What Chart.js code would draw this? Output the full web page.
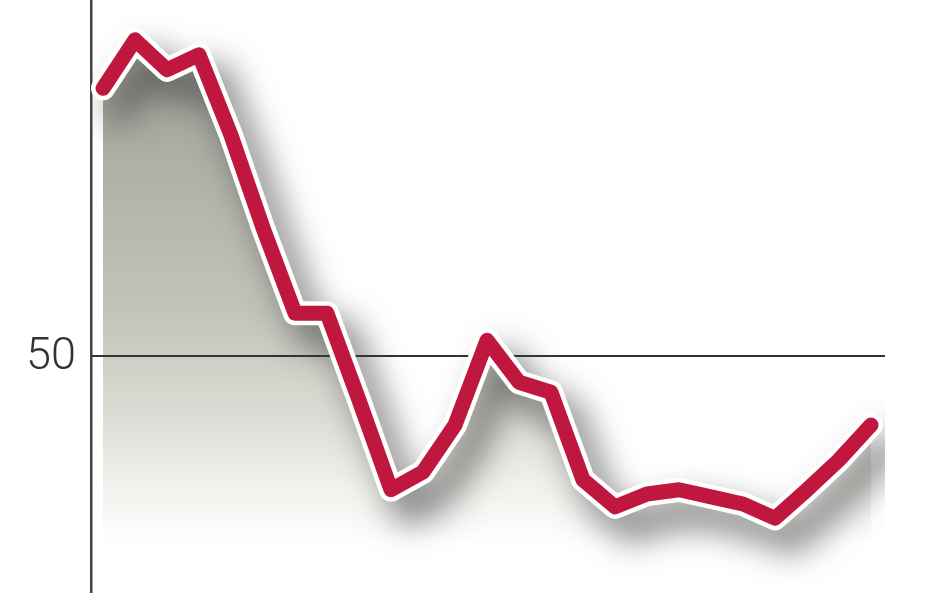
<!DOCTYPE html>
<html>
<head>
<meta charset="utf-8">
<script src="https://cdn.jsdelivr.net/npm/chart.js@4/dist/chart.umd.min.js"></script>
<style>
html,body{margin:0;padding:0;background:#fff;}
#wrap{width:948px;height:593px;position:relative;}
</style>
</head>
<body>
<div id="wrap"><canvas id="c" width="948" height="593"></canvas></div>
<script>
const categories = ['1','2','3','4','5','6','7','8','9','10','11','12','13','14','15','16','17','18','19','20','21','22','23','24','25'];
const values = [87.6,94.4,90.2,92.3,81.0,68.0,56.0,56.0,43.8,31.2,33.7,40.3,52.2,46.3,44.9,32.6,28.8,30.6,31.2,30.2,29.2,27.2,31.2,35.4,40.3];
const yTicks = [50];
const yMin = 16.7, yMax = 100;

const pts = values.map((v,i)=>({x:i,y:v}));

const shadowPlugin = {
  id:'shadow',
  beforeDatasetDraw(chart,args){
    if(args.index===1){
      const ctx=chart.ctx; ctx.save();
      ctx.shadowColor='rgba(60,60,60,0.75)';
      ctx.shadowBlur=34; ctx.shadowOffsetX=17; ctx.shadowOffsetY=21;
    }
  },
  afterDatasetDraw(chart,args){
    if(args.index===1){ chart.ctx.restore(); }
    if(args.index===0){
      const ctx=chart.ctx, s=chart.scales.y, ca=chart.chartArea;
      ctx.save();
      ctx.strokeStyle='#333'; ctx.lineWidth=2;
      yTicks.forEach(v=>{
        const y=Math.round(s.getPixelForValue(v));
        ctx.beginPath(); ctx.moveTo(ca.left,y); ctx.lineTo(ca.right,y); ctx.stroke();
      });
      ctx.restore();
    }
  }
};

const labelPlugin = {
  id:'ylabels',
  afterDraw(chart){
    const ctx=chart.ctx, s=chart.scales.y;
    ctx.save();
    ctx.fillStyle='#333';
    ctx.font='300 45px Roboto';
    ctx.textAlign='right';
    ctx.textBaseline='middle';
    yTicks.forEach(v=>{ ctx.fillText(String(v), s.right-15, s.getPixelForValue(v)+2); });
    ctx.restore();
  }
};

new Chart(document.getElementById('c'),{
  type:'line',
  data:{
    labels:categories,
    datasets:[
      {data:pts,order:3,borderWidth:0,pointRadius:0,tension:0,fill:'start',
       backgroundColor:(c)=>{
         const ca=c.chart.chartArea; if(!ca) return '#bbb';
         const g=c.chart.ctx.createLinearGradient(0,80,0,545);
         g.addColorStop(0,'#a2a39a');
         g.addColorStop(0.25,'#b3b4aa');
         g.addColorStop(0.5,'#c2c3b9');
         g.addColorStop(0.7,'#dadad3');
         g.addColorStop(0.87,'#f0f0ec');
         g.addColorStop(1,'#ffffff');
         return g;
       }},
      {data:pts,order:2,borderColor:'#ffffff',borderWidth:24,pointRadius:0,tension:0,fill:false,borderJoinStyle:'round',borderCapStyle:'round'},
      {data:pts,order:1,borderColor:'#c0173f',borderWidth:15,pointRadius:0,tension:0,fill:false,borderJoinStyle:'round',borderCapStyle:'round'}
    ]
  },
  options:{
    responsive:false,animation:false,devicePixelRatio:1,
    layout:{padding:{left:0,right:63,top:0,bottom:0}},
    plugins:{legend:{display:false},tooltip:{enabled:false}},
    scales:{
      x:{type:'linear',display:false,min:-0.375,max:24.4375},
      y:{min:yMin,max:yMax,
         afterBuildTicks:(s)=>{s.ticks=yTicks.map(v=>({value:v}));},
         afterFit:(s)=>{s.width=91;},
         ticks:{display:false},
         grid:{color:'#333',lineWidth:2,drawTicks:false},
         border:{display:true,color:'#444',width:2.5}
      }
    }
  },
  plugins:[shadowPlugin,labelPlugin]
});
</script>
</body>
</html>
